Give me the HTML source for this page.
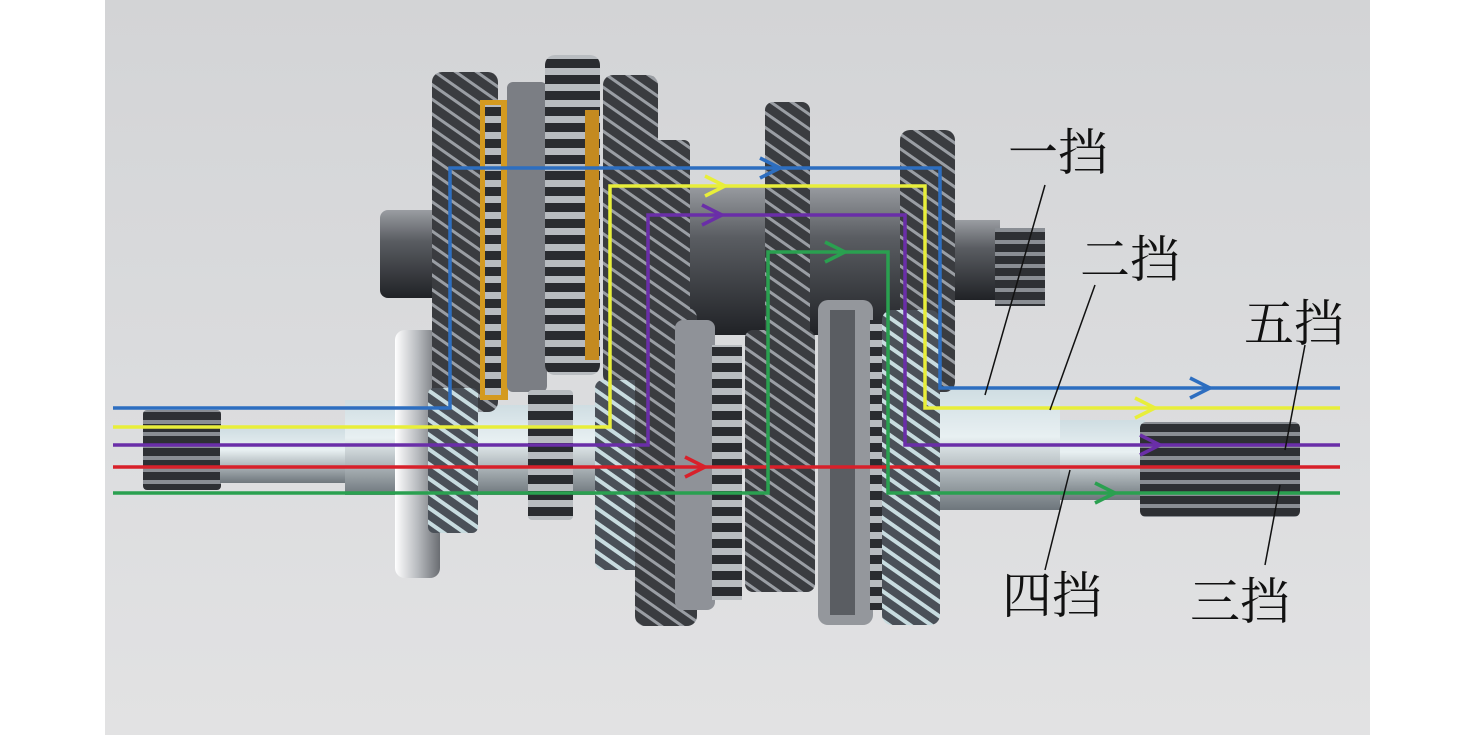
<!DOCTYPE html>
<html><head><meta charset="utf-8"><style>
html,body{margin:0;padding:0;background:#fff;}
svg{display:block}
text{font-family:"Liberation Serif","Noto Serif CJK SC","Noto Sans CJK SC",serif;font-size:50px;fill:#111}
</style></head><body>
<svg width="1476" height="735" viewBox="0 0 1476 735" xmlns="http://www.w3.org/2000/svg">
<defs>
<linearGradient id="bg" x1="0" y1="0" x2="0" y2="1">
<stop offset="0" stop-color="#d3d4d6"/><stop offset="0.6" stop-color="#dcdddf"/><stop offset="1" stop-color="#e2e2e3"/></linearGradient>
<pattern id="gd" width="12" height="12" patternUnits="userSpaceOnUse" patternTransform="rotate(35)">
<rect width="12" height="12" fill="#3a3c40"/><rect width="12" height="3" fill="#9a9ea4"/></pattern>
<pattern id="gl" width="12" height="12" patternUnits="userSpaceOnUse" patternTransform="rotate(35)">
<rect width="12" height="12" fill="#4a5058"/><rect width="12" height="4" fill="#c8dce0"/></pattern>
<pattern id="sp" width="10" height="12" patternUnits="userSpaceOnUse">
<rect width="10" height="12" fill="#2e3034"/><rect width="10" height="4" fill="#8a8e94"/></pattern>
<pattern id="syn" width="12" height="16" patternUnits="userSpaceOnUse">
<rect width="12" height="16" fill="#2a2c30"/><rect y="4" width="12" height="7" fill="#b8bcc0"/></pattern>
<linearGradient id="cyl" x1="0" y1="0" x2="0" y2="1">
<stop offset="0" stop-color="#9a9da2"/><stop offset="0.35" stop-color="#5a5d62"/><stop offset="1" stop-color="#202226"/></linearGradient>
<linearGradient id="shaft" x1="0" y1="0" x2="0" y2="1">
<stop offset="0" stop-color="#cfdde2"/><stop offset="0.4" stop-color="#e8f0f2"/><stop offset="1" stop-color="#6e767c"/></linearGradient>
<linearGradient id="disk" x1="0" y1="0" x2="1" y2="0">
<stop offset="0" stop-color="#ffffff"/><stop offset="0.5" stop-color="#b8bbbf"/><stop offset="1" stop-color="#6a6d72"/></linearGradient>
</defs>
<rect x="105" y="0" width="1265" height="735" fill="url(#bg)"/>

<rect x="380" y="210" width="60" height="88" rx="8" fill="url(#cyl)"/>
<rect x="680" y="185" width="225" height="150" fill="url(#cyl)"/>
<rect x="940" y="220" width="60" height="80" fill="url(#cyl)"/>
<rect x="995" y="228" width="50" height="78" fill="url(#sp)"/>

<rect x="143" y="410" width="78" height="80" rx="4" fill="url(#sp)"/>
<rect x="220" y="428" width="140" height="55" fill="url(#shaft)"/>
<rect x="345" y="400" width="100" height="95" fill="url(#shaft)"/>
<rect x="470" y="405" width="130" height="90" fill="url(#shaft)"/>
<rect x="935" y="388" width="125" height="122" fill="url(#shaft)"/>
<rect x="1060" y="420" width="85" height="80" fill="url(#shaft)"/>
<rect x="1140" y="422" width="160" height="95" rx="6" fill="url(#sp)"/>

<rect x="395" y="330" width="45" height="248" rx="10" fill="url(#disk)"/>

<rect x="432" y="72" width="66" height="340" rx="10" fill="url(#gd)"/>
<rect x="480" y="100" width="28" height="300" fill="#d49a20"/>
<rect x="485" y="105" width="16" height="290" fill="url(#syn)"/>
<rect x="507" y="82" width="40" height="310" rx="6" fill="#7b7e84"/>
<rect x="545" y="55" width="55" height="320" rx="10" fill="url(#syn)"/>
<rect x="585" y="110" width="14" height="250" fill="#c48a20"/>
<rect x="603" y="75" width="55" height="310" rx="10" fill="url(#gd)"/>
<rect x="648" y="140" width="42" height="240" rx="6" fill="url(#gd)"/>
<rect x="765" y="102" width="45" height="258" rx="8" fill="url(#gd)"/>
<rect x="900" y="130" width="55" height="262" rx="10" fill="url(#gd)"/>

<rect x="428" y="388" width="50" height="145" rx="6" fill="url(#gl)"/>
<rect x="528" y="390" width="45" height="130" rx="4" fill="url(#syn)"/>
<rect x="595" y="380" width="65" height="190" rx="8" fill="url(#gl)"/>
<rect x="635" y="308" width="62" height="318" rx="10" fill="url(#gd)"/>
<rect x="675" y="320" width="40" height="290" rx="8" fill="#8f9298"/>
<rect x="712" y="345" width="30" height="255" fill="url(#syn)"/>
<rect x="745" y="330" width="70" height="262" rx="8" fill="url(#gd)"/>
<rect x="818" y="300" width="55" height="325" rx="10" fill="#94979c"/>
<rect x="830" y="310" width="25" height="305" fill="#5a5d62"/>
<rect x="870" y="320" width="20" height="290" fill="url(#syn)"/>
<rect x="882" y="310" width="58" height="315" rx="10" fill="url(#gl)"/>

<g fill="none" stroke-width="3.5">
<polyline stroke="#2d6ec0" points="113,408 450,408 450,168 940,168 940,388 1340,388"/>
<polyline stroke="#e8ee3a" points="113,427 610,427 610,186 925,186 925,408 1340,408"/>
<polyline stroke="#6a2ea8" points="113,445 648,445 648,215 905,215 905,445 1340,445"/>
<polyline stroke="#d8202a" points="113,467 1340,467"/>
<polyline stroke="#2aa050" points="113,493 768,493 768,252 888,252 888,493 1340,493"/>
</g>
<g fill="none" stroke-width="3.5">
<polyline stroke="#2d6ec0" points="760,158 780,168 760,178"/>
<polyline stroke="#2d6ec0" points="1190,378 1210,388 1190,398"/>
<polyline stroke="#e8ee3a" points="705,176 725,186 705,196"/>
<polyline stroke="#e8ee3a" points="1135,398 1155,408 1135,418"/>
<polyline stroke="#6a2ea8" points="702,205 722,215 702,225"/>
<polyline stroke="#6a2ea8" points="1140,435 1160,445 1140,455"/>
<polyline stroke="#d8202a" points="685,457 705,467 685,477"/>
<polyline stroke="#2aa050" points="825,242 845,252 825,262"/>
<polyline stroke="#2aa050" points="1095,483 1115,493 1095,503"/>
</g>

<g stroke="#111" stroke-width="1.5">
<line x1="1045" y1="185" x2="985" y2="395"/>
<line x1="1095" y1="285" x2="1050" y2="410"/>
<line x1="1305" y1="345" x2="1285" y2="450"/>
<line x1="1045" y1="570" x2="1070" y2="470"/>
<line x1="1265" y1="565" x2="1280" y2="485"/>
</g>
<text x="1008" y="170">一挡</text>
<text x="1080" y="277">二挡</text>
<text x="1244" y="341">五挡</text>
<text x="1002" y="613">四挡</text>
<text x="1190" y="619">三挡</text>
</svg>
</body></html>
